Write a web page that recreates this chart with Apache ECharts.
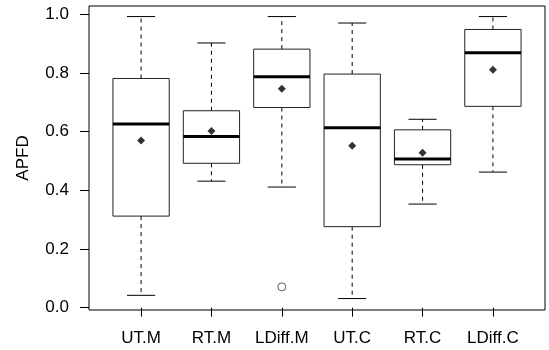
<!DOCTYPE html>
<html>
<head>
<meta charset="utf-8">
<script src="https://cdn.jsdelivr.net/npm/echarts@6/dist/echarts.min.js"></script>
<style>
  html, body { margin: 0; padding: 0; background: #fff; }
  #chart { width: 549px; height: 350px; }
</style>
</head>
<body>
<div id="chart"></div>
<script>
// values
const categories = ['UT.M', 'RT.M', 'LDiff.M', 'UT.C', 'RT.C', 'LDiff.C'];
const whiskerLow  = [0.042, 0.431, 0.411, 0.031, 0.353, 0.462];
const q1          = [0.312, 0.492, 0.682, 0.276, 0.487, 0.686];
const median      = [0.626, 0.583, 0.787, 0.613, 0.507, 0.869];
const q3          = [0.781, 0.671, 0.881, 0.796, 0.606, 0.948];
const whiskerHigh = [0.992, 0.902, 0.992, 0.970, 0.642, 0.992];
const means       = [0.570, 0.602, 0.746, 0.552, 0.528, 0.811];
const outliers    = [[3, 0.071]];
const yTicks = [0.0, 0.2, 0.4, 0.6, 0.8, 1.0];
const xTicks = [1, 2, 3, 4, 5, 6];

const boxRows = categories.map((c, i) => [i + 1, whiskerLow[i], q1[i], median[i], q3[i], whiskerHigh[i]]);
const meanRows = means.map((m, i) => [i + 1, m]);

const font = 'Liberation Sans, Arial, Helvetica, sans-serif';

var chartDom = document.getElementById('chart');
var myChart = echarts.init(chartDom);
var option;

option = {
  animation: false,
  grid: {
    left: 89,
    right: 4,
    top: 6,
    bottom: 40,
    show: true,
    borderColor: '#000',
    borderWidth: 1
  },
  xAxis: {
    type: 'value',
    min: 0.26,
    max: 6.74,
    axisLine: { show: false },
    splitLine: { show: false },
    axisTick: {
      customValues: xTicks,
      length: 9,
      lineStyle: { color: '#000' }
    },
    axisLabel: {
      customValues: xTicks,
      formatter: v => categories[Math.round(v) - 1],
      margin: 20,
      color: '#000',
      fontSize: 17,
      fontFamily: font
    }
  },
  yAxis: {
    type: 'value',
    min: -0.008,
    max: 1.028,
    name: 'APFD',
    nameLocation: 'middle',
    nameGap: 57,
    nameTextStyle: { color: '#000', fontSize: 17, fontFamily: font },
    axisLine: { show: false },
    splitLine: { show: false },
    axisTick: {
      customValues: yTicks,
      length: 9,
      lineStyle: { color: '#000' }
    },
    axisLabel: {
      customValues: yTicks,
      formatter: v => v.toFixed(1),
      margin: 20,
      color: '#000',
      fontSize: 17,
      fontFamily: font
    }
  },
  series: [
    {
      type: 'custom',
      data: boxRows,
      encode: { x: 0, y: [1, 2, 3, 4, 5] },
      renderItem: function (params, api) {
        const x = api.value(0);
        const lo = api.coord([x, api.value(1)]);
        const b1 = api.coord([x, api.value(2)]);
        const md = api.coord([x, api.value(3)]);
        const b3 = api.coord([x, api.value(4)]);
        const hi = api.coord([x, api.value(5)]);
        const w = api.size([0.8, 0])[0];
        const cx = lo[0];
        const dash = { stroke: '#000', lineWidth: 1, lineDash: [4, 4] };
        const solid = { stroke: '#000', lineWidth: 1 };
        return {
          type: 'group',
          children: [
            { type: 'line', shape: { x1: cx, y1: b3[1], x2: cx, y2: hi[1] }, style: dash },
            { type: 'line', shape: { x1: cx, y1: b1[1], x2: cx, y2: lo[1] }, style: dash },
            { type: 'line', shape: { x1: cx - w / 4, y1: hi[1], x2: cx + w / 4, y2: hi[1] }, style: solid },
            { type: 'line', shape: { x1: cx - w / 4, y1: lo[1], x2: cx + w / 4, y2: lo[1] }, style: solid },
            { type: 'rect', shape: { x: cx - w / 2, y: b3[1], width: w, height: b1[1] - b3[1] },
              style: { fill: '#fff', stroke: '#222', lineWidth: 1 } },
            { type: 'line', shape: { x1: cx - w / 2, y1: md[1], x2: cx + w / 2, y2: md[1] },
              style: { stroke: '#000', lineWidth: 3 } }
          ]
        };
      }
    },
    {
      type: 'scatter',
      data: meanRows,
      symbol: 'diamond',
      symbolSize: 8,
      itemStyle: { color: '#000' },
      z: 5
    },
    {
      type: 'scatter',
      data: outliers,
      symbol: 'circle',
      symbolSize: 8,
      itemStyle: { color: '#fff', borderColor: '#000', borderWidth: 0.8 },
      z: 5
    }
  ]
};

myChart.setOption(option);
</script>
</body>
</html>
